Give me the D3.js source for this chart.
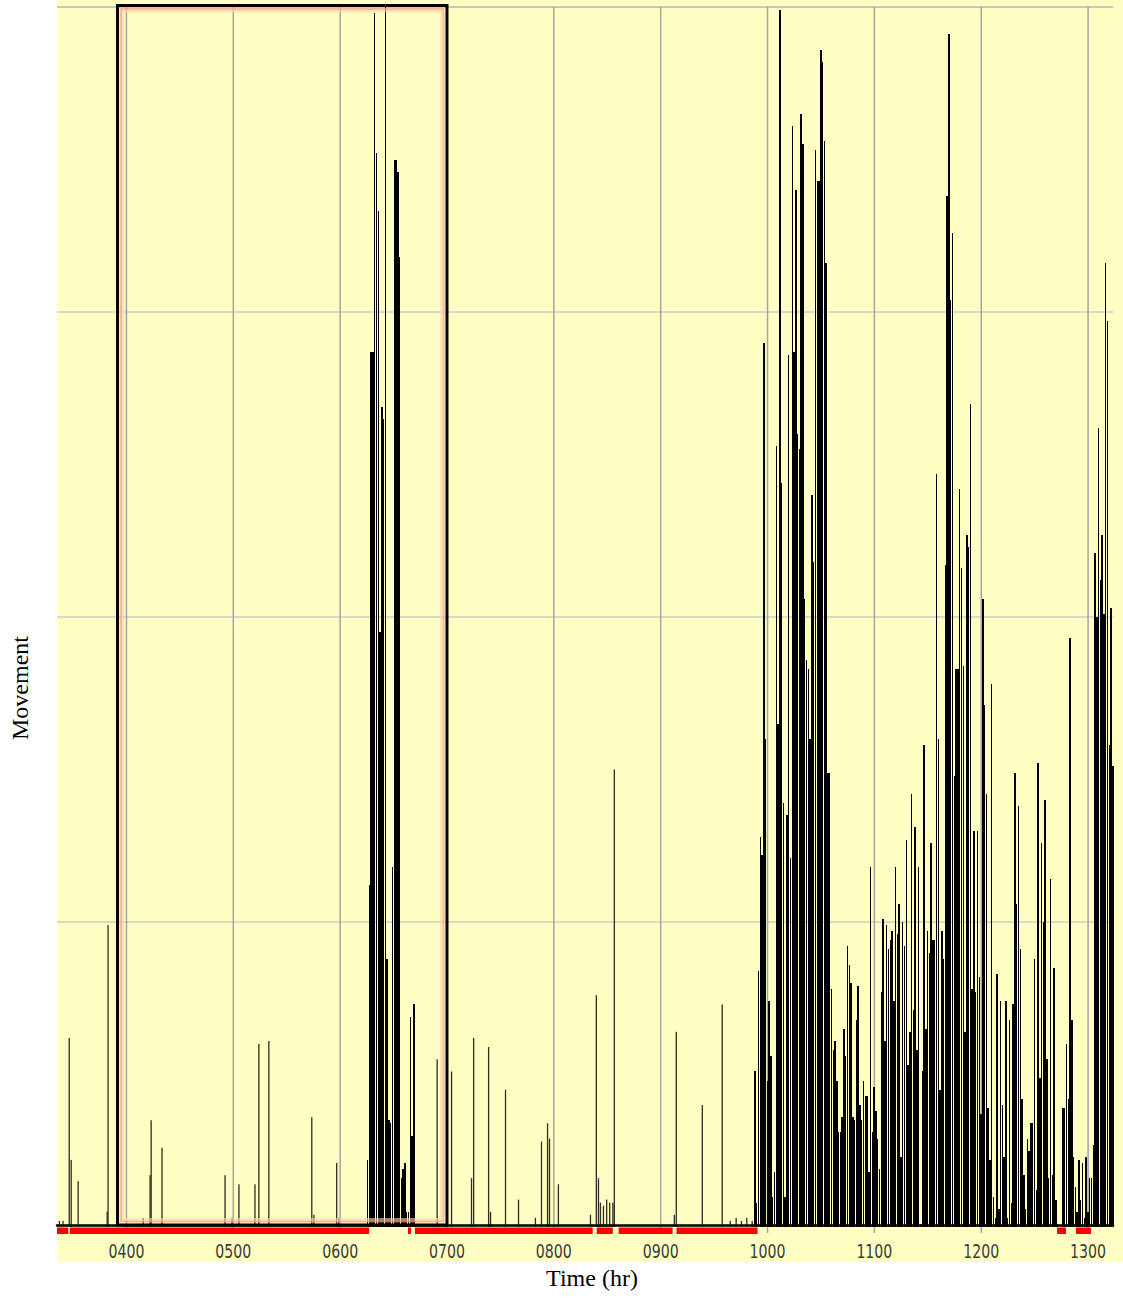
<!DOCTYPE html>
<html>
<head>
<meta charset="utf-8">
<script src="https://cdn.jsdelivr.net/npm/d3@7"></script>
<style>
  body { margin: 0; background: #fff; }
  svg { display: block; }
</style>
</head>
<body>
<div id="chart"></div>
<script>
// hour labels along the time axis
const hourLabels = ["0400", "0500", "0600", "0700", "0800", "0900", "1000", "1100", "1200", "1300"];

// movement counts, one per minute, minutes after midnight
const earlyStart = 375;
const earlyValues = [22, 112, 287, 287, 398, 352, 333, 195, 269, 265, 401, 88, 35, 34, 118, 350, 350, 346, 318, 16, 19, 21, 5, 5, 69, 30, 73];

const lateStart = 592.5;
const lateValues = [
  51, 8, 84, 128, 122, 290, 160, 48, 74, 56, 10, 18, 256, 165, 399, 244, 139, 10, 135, 286, 121, 361, 287, 340, 260, 255,
  365, 355, 206, 186, 183, 160, 240, 218, 353, 343, 343, 386, 382, 356, 316, 149, 149, 78, 58, 61, 48, 31, 31, 36, 65, 56,
  92, 86, 80, 36, 35, 68, 79, 40, 35, 48, 43, 43,
  18, 118, 31, 46, 38, 29, 19, 77, 101, 61, 99, 91, 94, 97, 74, 118, 96, 106, 23, 100, 92, 127, 53, 64, 142, 71, 131, 58,
  118, 1, 51, 158, 65, 97, 90, 126, 94, 94, 247, 160, 45, 97, 88, 217, 338, 391, 304, 326, 148, 183, 183, 242, 216, 184,
  64, 227, 223, 270, 78, 130, 77, 130,
  82, 37, 206, 171, 142, 39, 22, 178, 10, 3, 83, 6, 74, 40, 23, 74, 3, 68, 8, 73, 149, 106, 138, 91, 42, 17, 6, 29, 25,
  34, 34, 88, 12, 152, 49, 126, 100, 140, 55, 16, 114, 17, 85, 9, 1, 0, 0, 39, 39, 60, 42, 193, 68, 23, 13, 5, 22, 9,
  21, 3, 23, 5, 16, 16, 27, 221, 200, 262, 212, 227, 201, 316, 297, 158, 203, 151
];

// single spikes in the quiet stretches
const spikeTimes = [202, 204, 207.5, 208.6, 212.5, 228.8, 229.3, 249, 252.9, 253.5, 259.6, 295, 298.9, 302.8, 311.8,
  314, 319.6, 343.7, 344.9, 357.7, 358.9, 414.1, 422.2, 433.4, 434.6, 443, 444.1, 452.5, 459.8, 469.3, 472.7, 476.1,
  477.2, 482.2, 500.2, 503.5, 504.7, 505.8, 507.5, 509.3, 511, 512.8, 513.6, 547.3, 548.4, 563, 574.2, 578.7, 582,
  585, 588, 591];
const spikeValues = [2, 2, 62, 22, 15, 5, 99, 3, 17, 35, 26, 17, 3, 14, 14, 60, 61, 36, 4, 21, 3, 55, 51, 16, 62, 59,
  5, 45, 9, 3, 28, 34, 29, 14, 4, 76, 16, 8, 7, 9, 8, 8, 150, 4, 64, 40, 73, 2, 3, 2, 3, 2];

// red band under the axis (start / end minute)
const redStarts = [201, 208.2, 398.1, 402, 504.1, 516.4, 548.9, 762.6, 773.2];
const redEnds = [207.3, 376.3, 399.8, 501.8, 513.1, 546.7, 594.4, 767.6, 781.6];

// highlighted window
const boxFrom = 235;
const boxTo = 420;

const outerWidth = 1123;
const outerHeight = 1298;

const svg = d3.select("#chart").append("svg")
  .attr("width", outerWidth)
  .attr("height", outerHeight);

const xScale = d3.scaleLinear().domain([201, 794]).range([57, 1113]);
const yScale = d3.scaleLinear().domain([0, 400]).range([1227, 7]);

const hourMinutes = hourLabels.map(h => +h.slice(0, 2) * 60);
const x0 = xScale.range()[0], x1 = xScale.range()[1];

// yellow panel
svg.append("rect")
  .attr("x", x0).attr("y", 0)
  .attr("width", outerWidth - x0).attr("height", 1262)
  .attr("fill", "#ffffc4");

// horizontal grid
svg.append("g").selectAll("line")
  .data([100, 200, 300])
  .join("line")
  .attr("x1", x0).attr("x2", x1)
  .attr("y1", d => yScale(d)).attr("y2", d => yScale(d))
  .attr("stroke", "#b4b4d2").attr("stroke-width", 1);

svg.append("line")
  .attr("x1", x0).attr("x2", x1)
  .attr("y1", yScale(400)).attr("y2", yScale(400))
  .attr("stroke", "#c6c6c8").attr("stroke-width", 2);

// vertical grid + little ticks below the axis
svg.append("g").selectAll("line")
  .data(hourMinutes)
  .join("line")
  .attr("x1", d => xScale(d)).attr("x2", d => xScale(d))
  .attr("y1", yScale(400)).attr("y2", yScale(0) + 6)
  .attr("stroke", "#a4a4a8").attr("stroke-width", 1.5);

// bars
const pitch = xScale(1) - xScale(0);

const active = []
earlyValues.forEach((v, i) => active.push({t: earlyStart + i, v: v}))
lateValues.forEach((v, i) => active.push({t: lateStart + i, v: v}))
const spikes = spikeTimes.map((t, i) => ({t: t, v: spikeValues[i]}))

// isolated spikes: thin, soft olive lines
svg.append("g").selectAll("rect")
  .data(spikes)
  .join("rect")
  .attr("x", d => xScale(d.t))
  .attr("y", d => yScale(d.v))
  .attr("width", 1.3)
  .attr("height", d => yScale(0) - yScale(d.v))
  .attr("fill", "#2e2e20");

// active spells: packed bars, pixel snapped so the gaps show as light stripes
svg.append("g")
  .attr("shape-rendering", "crispEdges")
  .selectAll("rect")
  .data(active)
  .join("rect")
  .attr("x", d => xScale(d.t))
  .attr("y", d => yScale(d.v))
  .attr("width", pitch - 0.34)
  .attr("height", d => yScale(0) - yScale(d.v))
  .attr("fill", "#000");

// baseline
svg.append("line")
  .attr("x1", x0).attr("x2", x1)
  .attr("y1", yScale(0) - 1.5).attr("y2", yScale(0) - 1.5)
  .attr("stroke", "#000").attr("stroke-width", 2.5)
  .attr("stroke-linecap", "round");

// red band
svg.append("g").selectAll("rect")
  .data(redStarts)
  .join("rect")
  .attr("x", d => xScale(d))
  .attr("y", yScale(0) + 0.5)
  .attr("width", (d, i) => xScale(redEnds[i]) - xScale(d))
  .attr("height", 6.5)
  .attr("fill", "#ff0000");

// highlighted window: soft red glow inside a black frame
const bx = xScale(boxFrom), bw = xScale(boxTo) - xScale(boxFrom);
const by = 5.5, bh = yScale(0) - 2 - by;
[[5.5, "#ffd6b0", 3, 0.6], [3.5, "#ff9c7c", 2, 0.7]].forEach(([inset, col, w, op]) => {
  svg.append("rect")
    .attr("x", bx + inset).attr("y", by + inset)
    .attr("width", bw - 2 * inset).attr("height", bh - 2 * inset)
    .attr("fill", "none").attr("stroke", col)
    .attr("stroke-width", w).attr("opacity", op);
});
svg.append("rect")
  .attr("x", bx).attr("y", by)
  .attr("width", bw).attr("height", bh)
  .attr("fill", "none").attr("stroke", "#000").attr("stroke-width", 3);

// hour labels
svg.append("g").selectAll("text")
  .data(hourLabels)
  .join("text")
  .attr("x", (d, i) => xScale(hourMinutes[i]))
  .attr("y", 1258)
  .attr("text-anchor", "middle")
  .attr("textLength", 36)
  .attr("lengthAdjust", "spacingAndGlyphs")
  .style("font-family", "'Liberation Sans Narrow', 'DejaVu Sans Condensed', 'Liberation Sans', sans-serif")
  .style("font-size", "19px")
  .attr("fill", "#3c3c3c")
  .text(d => d);

// axis titles
svg.append("text")
  .attr("x", 592)
  .attr("y", 1286)
  .attr("text-anchor", "middle")
  .style("font-family", "'Liberation Serif', 'Times New Roman', serif")
  .style("font-size", "24px")
  .text("Time (hr)");

svg.append("text")
  .attr("transform", "translate(28," + 688 + ") rotate(-90)")
  .attr("text-anchor", "middle")
  .style("font-family", "'Liberation Serif', 'Times New Roman', serif")
  .style("font-size", "24px")
  .text("Movement");
</script>
</body>
</html>
